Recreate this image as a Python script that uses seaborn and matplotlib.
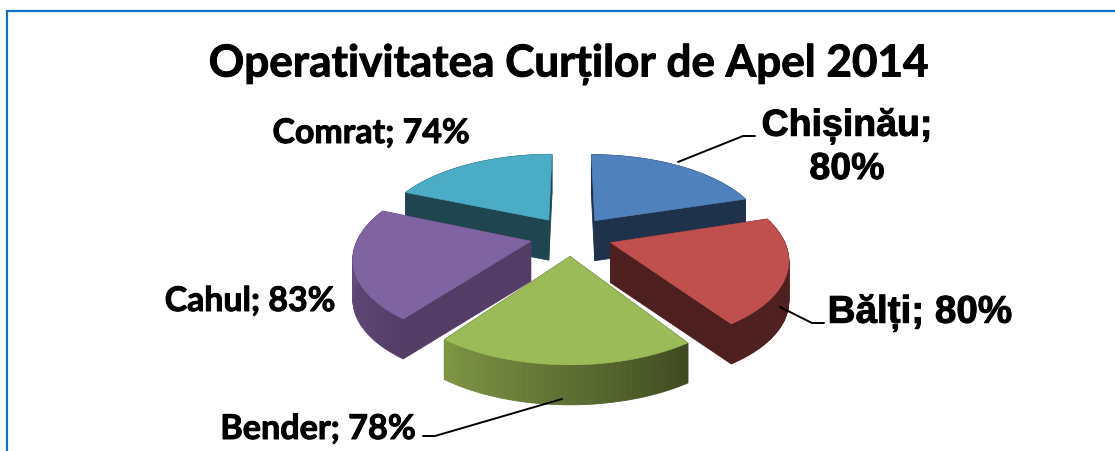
import numpy as np
import matplotlib
matplotlib.use("Agg")
import matplotlib.pyplot as plt
import matplotlib.patheffects as pe
import seaborn as sns

# ---- data ----
categories = ["Chișinău", "Bălți", "Bender", "Cahul", "Comrat"]
values = [80, 80, 78, 83, 74]
title = "Operativitatea Curților de Apel 2014"

# ---- style ----
top_colors = ["#4F81BD", "#C0504D", "#9BBB59", "#8064A2", "#4BACC6"]
cut_colors = ["#1F324C", "#4D1F1E", "#3F4A20", "#533D66", "#1E4550"]
rim_a = ["#1F324C", "#4D1F1E", "#3F4A20", "#533D66", "#1E4550"]   # rim colour at the clockwise start
rim_b = ["#1F324C", "#4D1F1E", "#7E9644", "#6E5488", "#1E4550"]   # rim colour at the clockwise end

sns.set_theme(style="white")
W, H = 1115, 452
fig = plt.figure(figsize=(W / 100, H / 100), dpi=100, facecolor="white")
ax = fig.add_axes([0, 0, 1, 1])
ax.set_xlim(0, W)
ax.set_ylim(H, 0)
ax.axis("off")

# projection of the tilted pie
CX, CY, RX, RY, PERSP, DEPTH, EXPLODE = 571, 237, 172, 82, 0.17, 40, 0.24


def project(u, v):
    s = 1 / (1 + PERSP * v)
    return CX + RX * u * s, CY - RY * v * s


shares = np.array(values, float) / sum(values) * 360
ends = 90 - np.cumsum(shares)
starts = ends + shares


def rgb(c):
    return np.array(matplotlib.colors.to_rgb(c))


geom = []
for i in range(len(values)):
    mid = np.radians((starts[i] + ends[i]) / 2)
    ox, oy = EXPLODE * np.cos(mid), EXPLODE * np.sin(mid)
    th = np.radians(np.linspace(starts[i], ends[i], 70))
    px, py = project(ox + np.cos(th), oy + np.sin(th))
    ax_, ay_ = project(ox, oy)
    geom.append((px, py, ax_, ay_))

# painter's order: farthest slice first
order = [4, 0, 3, 1, 2]
for rank, i in enumerate(order):
    px, py, ax0, ay0 = geom[i]
    z = rank * 3
    # the two cut faces
    for e in (0, -1):
        ax.fill([ax0, px[e], px[e], ax0],
                [ay0, py[e], py[e] + DEPTH, ay0 + DEPTH],
                color=cut_colors[i], lw=0.6, zorder=z + 1)
    # outer rim
    for k in range(len(px) - 1):
        t = k / (len(px) - 2)
        c = rgb(rim_b[i]) * t + rgb(rim_a[i]) * (1 - t)
        ax.fill([px[k], px[k + 1], px[k + 1], px[k]],
                [py[k], py[k + 1], py[k + 1] + DEPTH, py[k] + DEPTH],
                color=c, lw=0.6, zorder=z + 2)
    # top face
    ax.fill(np.r_[ax0, px], np.r_[ay0, py], color=top_colors[i], lw=0.4, zorder=z + 3)

# frame
ax.plot([6.5, 6.5, W], [H, 11.5, 11.5], color="#0F6FC6", lw=1.6, zorder=30,
        solid_joinstyle="miter", clip_on=False)

# leader lines
leaders = [([678, 743, 755], [163, 137, 137]),
           ([780, 812, 824], [308, 324, 324]),
           ([562, 435, 423], [400, 437, 437])]
for lx, ly in leaders:
    ax.plot(lx, ly, color="black", lw=1.4, zorder=31)

# text
fam_a = ["Lato", "DejaVu Sans"]
fam_b = ["Liberation Sans", "DejaVu Sans"]
heavy = [pe.withStroke(linewidth=0.7, foreground="black")]


def label(x, y, s, size, fam):
    ax.text(x, y, s, ha="center", va="center", fontsize=size, fontweight="bold",
            family=fam, color="black", zorder=40, path_effects=heavy)


pct = [f"{v}%" for v in values]
label(568, 65, title, 31.7, fam_a)
label(847, 127, f"{categories[0]};", 27, fam_b)
label(847, 170, pct[0], 27, fam_b)
label(920, 314, f"{categories[1]}; {pct[1]}", 27.8, fam_b)
label(318, 430, f"{categories[2]}; {pct[2]}", 24.6, fam_a)
label(250, 302, f"{categories[3]}; {pct[3]}", 24.4, fam_a)
label(371, 134, f"{categories[4]}; {pct[4]}", 24.4, fam_a)

fig.savefig("out.png", dpi=100, facecolor="white")
